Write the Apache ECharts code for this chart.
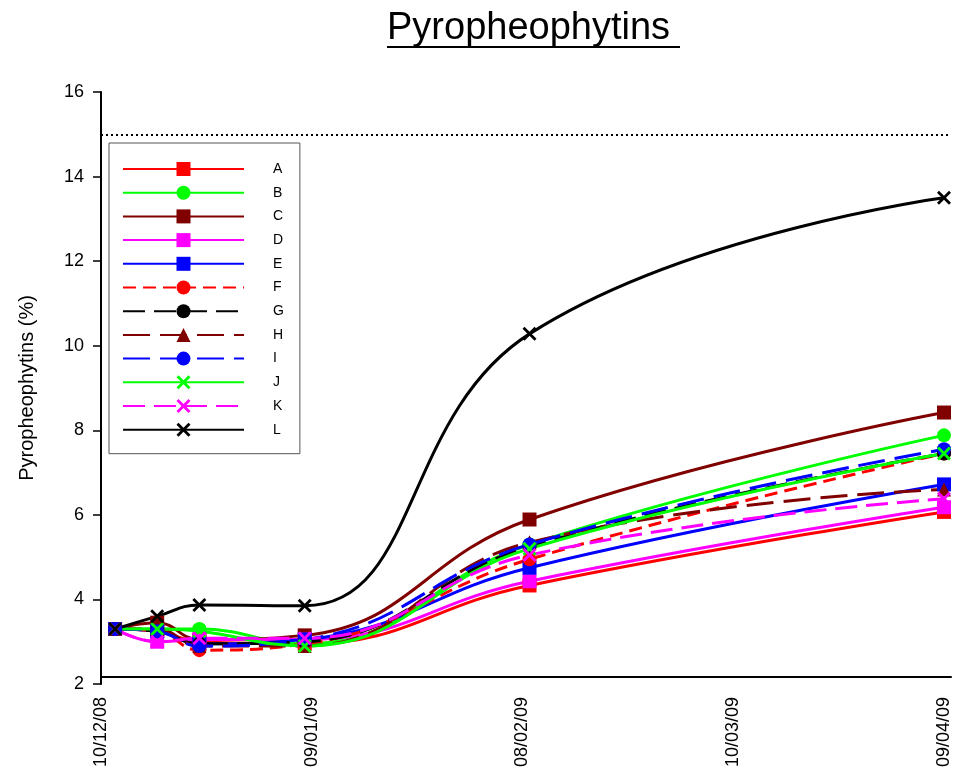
<!DOCTYPE html>
<html>
<head>
<meta charset="utf-8">
<script src="https://cdn.jsdelivr.net/npm/echarts@6/dist/echarts.min.js"></script>
<style>
html,body{margin:0;padding:0;background:#fff;}
#chart{width:953px;height:771px;}
</style>
</head>
<body>
<div id="chart"></div>
<script>
// ---- data ----
const startDate = '2008-12-10';
const sampleDates = ['2008-12-12', '2008-12-18', '2008-12-24', '2009-01-08', '2009-02-09', '2009-04-09'];
const xTickLabels = ['10/12/08', '09/01/09', '08/02/09', '10/03/09', '09/04/09'];
const seriesNames = ['A', 'B', 'C', 'D', 'E', 'F', 'G', 'H', 'I', 'J', 'K', 'L'];
const valA = [3.30, 3.25, 3.00, 2.95, 4.33, 6.07];
const valB = [3.30, 3.30, 3.30, 2.95, 5.30, 7.88];
const valC = [3.30, 3.45, 3.05, 3.15, 5.89, 8.42];
const valD = [3.30, 3.00, 3.05, 3.05, 4.43, 6.18];
const valE = [3.30, 3.25, 2.95, 3.05, 4.75, 6.72];
const valF = [3.30, 3.25, 2.80, 2.95, 4.95, 7.45];
const valG = [3.30, 3.25, 2.95, 3.00, 5.25, 7.45];
const valH = [3.30, 3.30, 2.90, 2.90, 5.35, 6.60];
const valI = [3.30, 3.25, 2.90, 3.05, 5.30, 7.55];
const valJ = [3.30, 3.30, 3.25, 2.90, 5.20, 7.45];
const valK = [3.30, 3.00, 3.08, 3.08, 5.05, 6.38];
const valL = [3.30, 3.60, 3.87, 3.85, 10.28, 13.50];
const limitValue = 15;

// ---- helpers ----
function dayOffset(s) {
  const p = s.split('-').map(Number);
  const q = startDate.split('-').map(Number);
  return Math.round((Date.UTC(p[0], p[1] - 1, p[2]) - Date.UTC(q[0], q[1] - 1, q[2])) / 86400000);
}
const xDays = sampleDates.map(dayOffset);
const allValues = [valA, valB, valC, valD, valE, valF, valG, valH, valI, valJ, valK, valL];

const crossPath = 'path://M2,0 L7,5 L12,0 L14,2 L9,7 L14,12 L12,14 L7,9 L2,14 L0,12 L5,7 L0,2 Z';
const styles = [
  {color: '#ff0000', symbol: 'rect', dash: 'solid'},
  {color: '#00ff00', symbol: 'circle', dash: 'solid'},
  {color: '#800000', symbol: 'rect', dash: 'solid'},
  {color: '#ff00ff', symbol: 'rect', dash: 'solid'},
  {color: '#0000ff', symbol: 'rect', dash: 'solid'},
  {color: '#ff0000', symbol: 'circle', dash: [13, 7]},
  {color: '#000000', symbol: 'circle', dash: [22, 9]},
  {color: '#800000', symbol: 'triangle', dash: [27, 10]},
  {color: '#0000ff', symbol: 'circle', dash: [27, 10]},
  {color: '#00ff00', symbol: crossPath, dash: 'solid'},
  {color: '#ff00ff', symbol: crossPath, dash: [22, 9]},
  {color: '#000000', symbol: crossPath, dash: 'solid'}
];

const series = seriesNames.map((name, i) => {
  const s = {
    name: name,
    type: 'line',
    smooth: 0.45,
    data: xDays.map((d, j) => [d, allValues[i][j]]),
    symbol: styles[i].symbol,
    symbolSize: 14,
    showAllSymbol: true,
    itemStyle: {color: styles[i].color, opacity: 1},
    lineStyle: {color: styles[i].color, width: 3, type: styles[i].dash},
    emphasis: {disabled: true},
    animation: false
  };
  if (i === 0) {
    s.markLine = {
      silent: true,
      symbol: ['none', 'none'],
      label: {show: false},
      lineStyle: {color: '#000', type: [2, 3], width: 2},
      data: [{yAxis: limitValue}],
      animation: false
    };
  }
  return s;
});

const font = '"Liberation Sans", Arial, sans-serif';
const chart = echarts.init(document.getElementById('chart'), null, {renderer: 'canvas'});
chart.setOption({
  backgroundColor: '#fff',
  animation: false,
  title: {
    text: 'Pyropheophytins ',
    left: 382,
    top: 5,
    textStyle: {fontFamily: font, fontSize: 38, fontWeight: 'normal', color: '#000'}
  },
  graphic: [{
    type: 'line',
    shape: {x1: 387, y1: 47, x2: 680, y2: 47},
    style: {stroke: '#000', lineWidth: 2}
  }],
  legend: {
    orient: 'vertical',
    left: 109,
    top: 143,
    padding: [19, 16, 17, 13],
    itemWidth: 121,
    itemHeight: 17.5,
    itemGap: 9.7,
    borderColor: '#555',
    borderWidth: 1,
    selectedMode: false,
    textStyle: {fontFamily: font, fontSize: 14, color: '#000', padding: [0, 0, 0, 24]},
    data: seriesNames
  },
  grid: {left: 101, right: 2, top: 92, bottom: 87},
  xAxis: {
    type: 'value',
    min: 0,
    max: 121,
    interval: 30,
    offset: -7,
    axisLine: {show: true, onZero: false, lineStyle: {color: '#000', width: 2}},
    axisTick: {show: false},
    splitLine: {show: false},
    axisLabel: {
      rotate: 90,
      margin: 20,
      fontFamily: font,
      fontSize: 18,
      color: '#000',
      showMaxLabel: false,
      formatter: v => (v % 30 === 0 && xTickLabels[v / 30] !== undefined) ? xTickLabels[v / 30] : ''
    }
  },
  yAxis: {
    type: 'value',
    min: 2,
    max: 16,
    interval: 2,
    name: 'Pyropheophytins (%)',
    nameLocation: 'middle',
    nameGap: 64,
    nameTextStyle: {fontFamily: font, fontSize: 20, color: '#000'},
    axisLine: {show: true, lineStyle: {color: '#000', width: 2}},
    axisTick: {show: true, length: 8, lineStyle: {color: '#000', width: 1.5}},
    splitLine: {show: false},
    axisLabel: {fontFamily: font, fontSize: 18, color: '#000', margin: 17}
  },
  series: series
});
</script>
</body>
</html>
